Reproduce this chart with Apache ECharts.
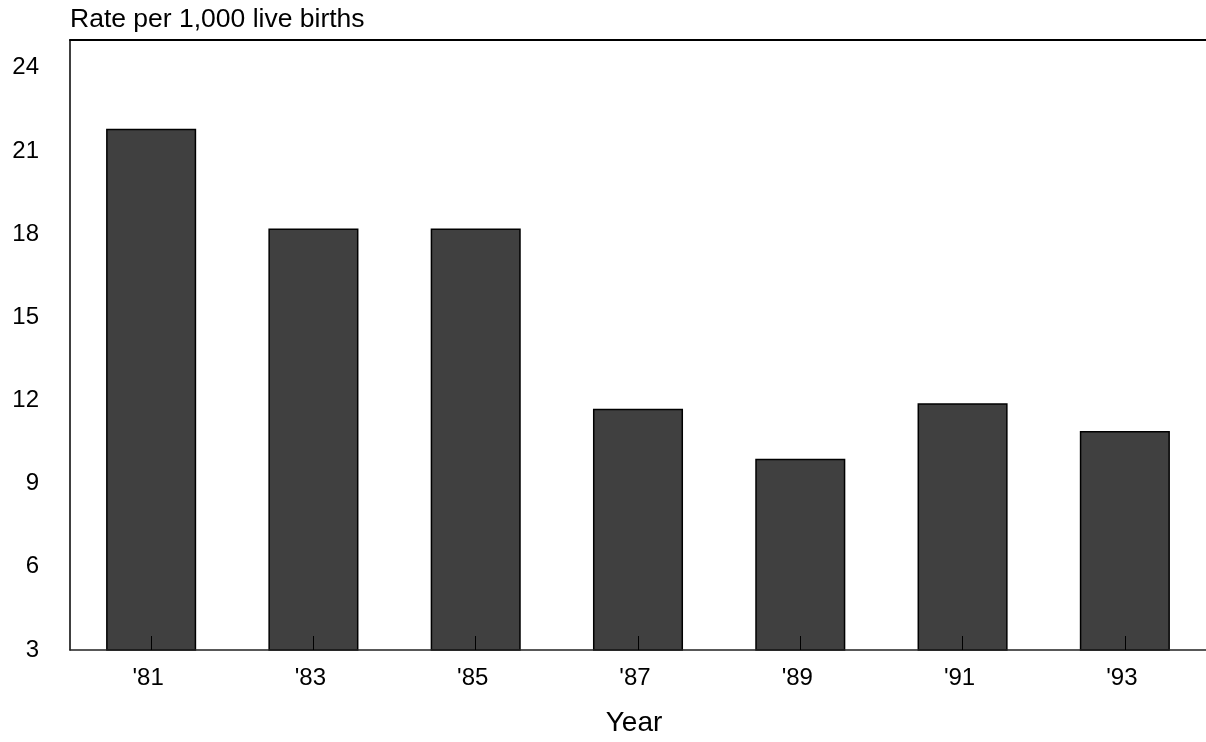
<!DOCTYPE html>
<html>
<head>
<meta charset="utf-8">
<script src="https://cdn.jsdelivr.net/npm/echarts@6/dist/echarts.min.js"></script>
<style>
html,body{margin:0;padding:0;background:#fff;}
#chart{width:1206px;height:742px;}
</style>
</head>
<body>
<div id="chart"></div>
<script>
const years = ["'81", "'83", "'85", "'87", "'89", "'91", "'93"];
const rates = [21.8, 18.2, 18.2, 11.7, 9.9, 11.9, 10.9];
const yTitle = 'Rate per 1,000 live births';
const xTitle = 'Year';

const FONT = '"Liberation Sans", Arial, sans-serif';
const chart = echarts.init(document.getElementById('chart'), null, {renderer: 'canvas'});
chart.setOption({
  animation: false,
  backgroundColor: '#fff',
  grid: {left: 70, right: -7, top: 40, bottom: 88, containLabel: false},
  xAxis: [{
    type: 'category',
    data: years,
    position: 'bottom',
    z: 5,
    axisLine: {show: true, lineStyle: {color: '#222', width: 1.5}},
    axisTick: {show: true, inside: true, alignWithLabel: true, length: 14, lineStyle: {color: '#000', width: 1}},
    axisLabel: {color: '#000', fontSize: 24, fontFamily: FONT, margin: 16, padding: [0, 6, 0, 0]},
    name: xTitle,
    nameLocation: 'middle',
    nameGap: 59,
    nameTextStyle: {color: '#000', fontSize: 28, fontFamily: FONT, padding: [0, 8, 0, 0]},
    splitLine: {show: false}
  }, {
    type: 'category',
    data: years,
    position: 'top',
    axisLine: {show: true, lineStyle: {color: '#000', width: 2}},
    axisTick: {show: false},
    axisLabel: {show: false},
    splitLine: {show: false}
  }],
  yAxis: {
    type: 'value',
    min: 3,
    max: 25,
    interval: 3,
    axisLine: {show: true, lineStyle: {color: '#000', width: 1.5}},
    axisTick: {show: false},
    splitLine: {show: false},
    axisLabel: {color: '#000', fontSize: 24, fontFamily: FONT, margin: 31, showMaxLabel: false},
    name: yTitle,
    nameLocation: 'end',
    nameGap: 20,
    nameTextStyle: {color: '#000', fontSize: 26.5, fontFamily: FONT, align: 'left', verticalAlign: 'middle'}
  },
  series: [{
    type: 'bar',
    data: rates,
    xAxisIndex: 0,
    barWidth: '55.5%',
    itemStyle: {color: '#404040', borderColor: '#000', borderWidth: 1.5}
  }]
});
</script>
</body>
</html>
